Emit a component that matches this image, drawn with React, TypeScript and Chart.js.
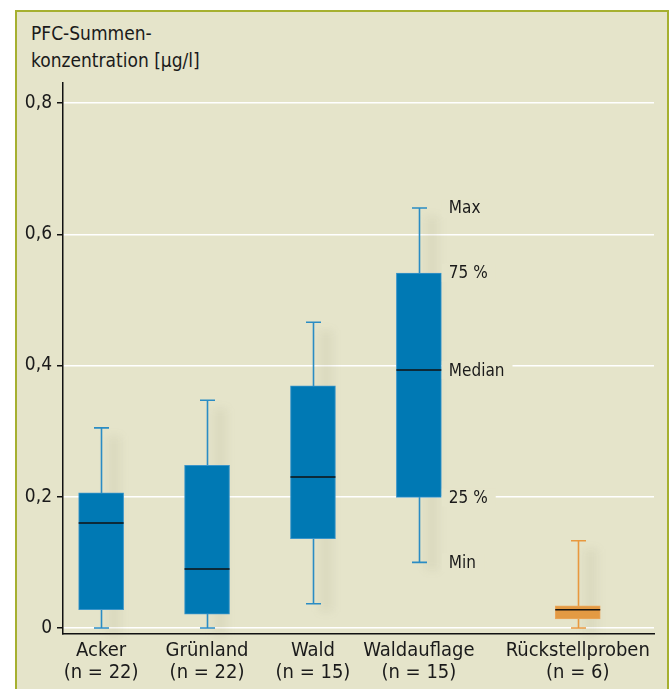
import React, { useEffect, useRef } from "react";
import { Chart, registerables } from "chart.js";

Chart.register(...registerables);

const categories = ["Acker", "Grünland", "Wald", "Waldauflage", "Rückstellproben"];
const sampleCounts = ["(n = 22)", "(n = 22)", "(n = 15)", "(n = 15)", "(n = 6)"];
const positions = [0, 1, 2, 3, 4.5];
const minValues = [0, 0, 0.037, 0.1, 0];
const q1Values = [0.028, 0.021, 0.136, 0.199, 0.014];
const medianValues = [0.16, 0.09, 0.23, 0.393, 0.028];
const q3Values = [0.206, 0.248, 0.369, 0.541, 0.034];
const maxValues = [0.305, 0.347, 0.466, 0.64, 0.133];
const boxColors = ["#0079b4", "#0079b4", "#0079b4", "#0079b4", "#e39a43"];
const whiskerColors = ["#2a8cc4", "#2a8cc4", "#2a8cc4", "#2a8cc4", "#e8983e"];
const yTicks = [0, 0.2, 0.4, 0.6, 0.8];
const legendLabels = ["Max", "75 %", "Median", "25 %", "Min"];
const legendIndex = 3;

const FONT = "'Liberation Sans Narrow', 'DejaVu Sans Condensed', 'Arial Narrow', sans-serif";
const BG = "#e5e4ca";

const boxPlugin = {
  id: "boxplot",
  beforeDatasetsDraw(chart: any) {
    const { ctx, scales } = chart;
    const xs = scales.x;
    const ys = scales.y;
    ctx.save();
    ctx.filter = "blur(4px)";
    ctx.fillStyle = "rgba(120,110,80,0.08)";
    positions.forEach((p, i) => {
      const cx = xs.getPixelForValue(p);
      ctx.fillRect(cx + 6, ys.getPixelForValue(maxValues[i]) + 8, 14, ys.getPixelForValue(minValues[i]) - ys.getPixelForValue(maxValues[i]));
    });
    ctx.filter = "none";
    positions.forEach((p, i) => {
      const cx = Math.round(xs.getPixelForValue(p)) + 0.5;
      const yMax = ys.getPixelForValue(maxValues[i]);
      const yMin = ys.getPixelForValue(minValues[i]);
      ctx.strokeStyle = whiskerColors[i];
      ctx.lineWidth = 1.6;
      ctx.beginPath();
      ctx.moveTo(cx, yMax);
      ctx.lineTo(cx, yMin);
      ctx.moveTo(cx - 7.5, yMax);
      ctx.lineTo(cx + 7.5, yMax);
      ctx.moveTo(cx - 7.5, yMin);
      ctx.lineTo(cx + 7.5, yMin);
      ctx.stroke();
    });
    ctx.restore();
  },
  afterDatasetsDraw(chart: any) {
    const { ctx, scales } = chart;
    const xs = scales.x;
    const ys = scales.y;
    ctx.save();
    positions.forEach((p, i) => {
      const cx = xs.getPixelForValue(p);
      const ym = ys.getPixelForValue(medianValues[i]);
      ctx.strokeStyle = "#111111";
      ctx.lineWidth = 1.5;
      ctx.beginPath();
      ctx.moveTo(cx - 22.5, ym);
      ctx.lineTo(cx + 22.5, ym);
      ctx.stroke();
    });
    const i = legendIndex;
    const lx = xs.getPixelForValue(positions[i]) + 30;
    const vals = [maxValues[i], q3Values[i], medianValues[i], q1Values[i], minValues[i]];
    ctx.font = `17px ${FONT}`;
    ctx.textBaseline = "middle";
    ctx.textAlign = "left";
    vals.forEach((v, k) => {
      const y = ys.getPixelForValue(v);
      const w = ctx.measureText(legendLabels[k]).width;
      ctx.fillStyle = BG;
      ctx.fillRect(lx - 7, y - 9, w + 15, 18);
      ctx.fillStyle = "#1a1a1a";
      ctx.fillText(legendLabels[k], lx, y + 1);
    });
    ctx.restore();
  },
};

export default function App() {
  const canvasRef = useRef<HTMLCanvasElement | null>(null);

  useEffect(() => {
    document.body.style.margin = "0";
    const canvas = canvasRef.current;
    if (!canvas) return;
    const chart = new Chart(canvas, {
      type: "bar",
      data: {
        datasets: [
          {
            data: positions.map((p, i) => ({ x: p, y: [q1Values[i], q3Values[i]] })) as any,
            backgroundColor: boxColors,
            borderColor: ["#3b95c9", "#3b95c9", "#3b95c9", "#3b95c9", "#eba65a"],
            borderWidth: 1,
            borderSkipped: false,
            barThickness: 45,
          },
        ],
      },
      options: {
        animation: false,
        responsive: false,
        maintainAspectRatio: false,
        layout: { padding: { left: 0, top: 83, right: 18, bottom: 0 } },
        plugins: { legend: { display: false }, tooltip: { enabled: false } },
        scales: {
          x: {
            type: "linear",
            min: -0.36,
            max: 5.22,
            offset: false,
            grid: { display: false, drawTicks: false },
            border: { display: true, color: "#111111", width: 1.5 },
            afterBuildTicks: (scale: any) => {
              scale.ticks = positions.map((p) => ({ value: p }));
            },
            afterFit: (scale: any) => {
              scale.height = 55;
            },
            ticks: {
              autoSkip: false,
              maxRotation: 0,
              padding: 6,
              color: "#1a1a1a",
              font: { family: FONT, size: 20, lineHeight: 1.1 },
              callback: (value: any) => {
                const idx = positions.indexOf(Number(value));
                return idx >= 0 ? [categories[idx], sampleCounts[idx]] : "";
              },
            },
          },
          y: {
            type: "linear",
            min: -0.0091,
            max: 0.8305,
            afterBuildTicks: (scale: any) => {
              scale.ticks = yTicks.map((v) => ({ value: v }));
            },
            afterFit: (scale: any) => {
              scale.width = 63;
            },
            grid: {
              color: "#ffffff",
              lineWidth: 1.5,
              drawTicks: true,
              tickLength: 6,
              tickColor: "#111111",
            },
            border: { display: true, color: "#111111", width: 1.5 },
            ticks: {
              padding: 5,
              color: "#1a1a1a",
              font: { family: FONT, size: 19 },
              callback: (value: any) => (Number(value) === 0 ? "0" : Number(value).toFixed(1).replace(".", ",")),
            },
          },
        },
      },
      plugins: [boxPlugin],
    });
    return () => chart.destroy();
  }, []);

  return (
    <div style={{ position: "relative", width: 672, height: 689, background: "#ffffff", overflow: "hidden" }}>
      <div
        style={{
          position: "absolute",
          left: 15,
          top: 10,
          width: 650,
          height: 700,
          background: BG,
          borderTop: "2px solid #a6b030",
          borderLeft: "2px solid #a6b030",
          borderRight: "2px solid #a6b030",
        }}
      />
      <div
        style={{
          position: "absolute",
          left: 31,
          top: 20,
          fontFamily: FONT,
          fontSize: 19,
          lineHeight: "27px",
          color: "#1a1a1a",
        }}
      >
        PFC-Summen-
        <br />
        konzentration [µg/l]
      </div>
      <canvas ref={canvasRef} width={672} height={689} style={{ position: "absolute", left: 0, top: 0 }} />
    </div>
  );
}
